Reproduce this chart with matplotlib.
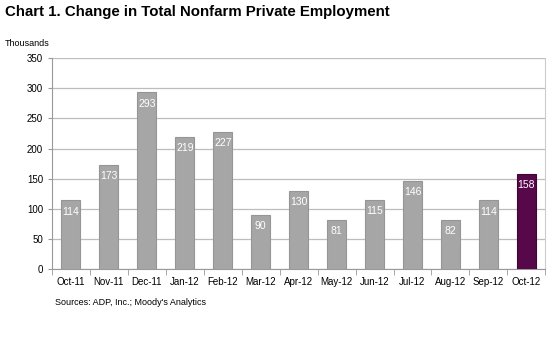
"""Change in total nonfarm private employment, monthly bars."""
import matplotlib
matplotlib.use("Agg")
import matplotlib.pyplot as plt
import numpy as np

months = ["Oct-11", "Nov-11", "Dec-11", "Jan-12", "Feb-12", "Mar-12", "Apr-12",
          "May-12", "Jun-12", "Jul-12", "Aug-12", "Sep-12", "Oct-12"]
changes = [114, 173, 293, 219, 227, 90, 130, 81, 115, 146, 82, 114, 158]
y_ticks = [0, 50, 100, 150, 200, 250, 300, 350]

plt.rcParams["font.family"] = ["Liberation Sans", "DejaVu Sans"]

fig = plt.figure(figsize=(5.5, 3.5), dpi=100)
ax = fig.add_axes([0.0945, 0.231, 0.897, 0.603])

x = np.arange(len(months))
colors = ["#a6a6a6"] * (len(months) - 1) + ["#56084a"]
edges = ["#959595"] * (len(months) - 1) + ["#3e0535"]
ax.bar(x, changes, width=0.5, color=colors, edgecolor=edges, linewidth=0.8, zorder=3)

for xi, v in zip(x, changes):
    ax.annotate(str(v), (xi, v), xytext=(0, -8), textcoords="offset points",
                ha="center", va="center", color="white", fontsize=7.5, zorder=4)

ax.set_xlim(-0.5, len(months) - 0.5)
ax.set_ylim(0, 350)
ax.set_yticks(y_ticks)
ax.set_xticks(x)
ax.set_xticklabels(months, fontsize=7)
ax.tick_params(axis="x", length=0, pad=6)
ax.set_xticks(np.arange(len(months) + 1) - 0.5, minor=True)
ax.tick_params(axis="x", which="minor", length=4, color="#999999", direction="out")
ax.tick_params(axis="y", labelsize=7, length=3, color="#999999")
ax.grid(True, axis="y", color="#bdbdbd", linewidth=0.9, zorder=0)

for side in ["left", "bottom"]:
    ax.spines[side].set_color("#999999")
ax.spines["top"].set_visible(False)
ax.spines["right"].set_color("#cccccc")

fig.text(0.009, 0.965, "Chart 1. Change in Total Nonfarm Private Employment",
         fontsize=10.8, fontweight="bold", va="center")
fig.text(0.009, 0.877, "Thousands", fontsize=6.5, va="center")
fig.text(0.1, 0.135, "Sources: ADP, Inc.; Moody's Analytics", fontsize=6.5, va="center")

fig.savefig("out.png", dpi=100)
